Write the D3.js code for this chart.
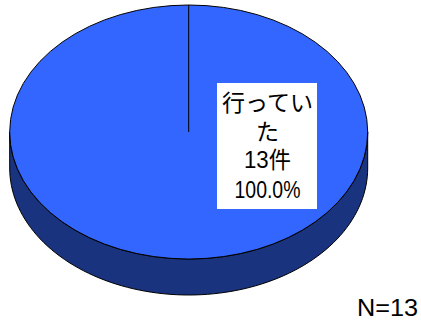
<!DOCTYPE html>
<html><head><meta charset="utf-8">
<script src="https://cdn.jsdelivr.net/npm/d3@7/dist/d3.min.js"></script>
<style>html,body{margin:0;padding:0;background:#fff}svg{display:block}</style></head>
<body><div id="c"></div>
<script>
const categories = ["行っていた"];
const counts = [13];
const percents = ["100.0%"];
const unit = "件";
const note = "N=13";

const W = 421, H = 321;
const cx = 188.7, cy = 132, rx = 179, ry = 127, depth = 36;
const top_ = "#3366FF", side = "#1A337F";
const font = "'Liberation Sans','Noto Sans CJK JP',sans-serif";

const svg = d3.select("#c").append("svg").attr("width", W).attr("height", H).attr("viewBox", `0 0 ${W} ${H}`);
const pie = d3.pie().sort(null).value(d => d)(counts);
const arc = d3.arc().innerRadius(0).outerRadius(1);

// wall
const sx = d3.scaleLinear().domain([-1, 1]).range([cx - rx, cx + rx]);
const sy = d3.scaleLinear().domain([-1, 1]).range([cy - ry, cy + ry]);
const angles = d3.range(0, 181, 2).map(d => d * Math.PI / 180);
const lower = angles.map(a => [sx(Math.cos(a)), sy(Math.sin(a)) + depth]);
const upper = angles.slice().reverse().map(a => [sx(Math.cos(a)), sy(Math.sin(a))]);
svg.append("path").attr("d", d3.line()(lower.concat(upper)) + "Z")
  .attr("fill", side).attr("stroke", "#000").attr("stroke-width", 1);

// top
svg.append("g").attr("transform", `translate(${cx},${cy}) scale(${rx},${ry})`)
  .selectAll("path").data(pie).join("path")
  .attr("d", arc).attr("fill", top_).attr("stroke", "#000")
  .attr("stroke-width", 1).attr("vector-effect", "non-scaling-stroke");

// slice boundary at the start angle
pie.forEach(p => {
  svg.append("line")
    .attr("x1", sx(0)).attr("y1", sy(0))
    .attr("x2", sx(Math.sin(p.startAngle))).attr("y2", sy(-Math.cos(p.startAngle)))
    .attr("stroke", "#000").attr("stroke-width", 1);
});

// label
svg.append("rect").attr("x", 217).attr("y", 83).attr("width", 100).attr("height", 126).attr("fill", "#fff");
const name = categories[0];
const lines = [
  {t: name.slice(0, 4), y: 111, w: 91, s: 23},
  {t: name.slice(4), y: 140, s: 23},
  {t: counts[0] + unit, y: 168, s: 23, w: 47},
  {t: percents[0], y: 198, s: 23, w: 66}
];
const txt = svg.append("g").attr("font-family", font).attr("fill", "#000").attr("text-anchor", "middle");
lines.forEach(l => {
  const e = txt.append("text").attr("x", 267.5).attr("y", l.y).attr("font-size", l.s).text(l.t);
  if (l.w) e.attr("textLength", l.w).attr("lengthAdjust", "spacingAndGlyphs");
});
svg.append("text").attr("x", 357).attr("y", 316).attr("font-family", font).attr("font-size", 24)
  .attr("textLength", 61).attr("lengthAdjust", "spacingAndGlyphs").text(note);
</script></body></html>
